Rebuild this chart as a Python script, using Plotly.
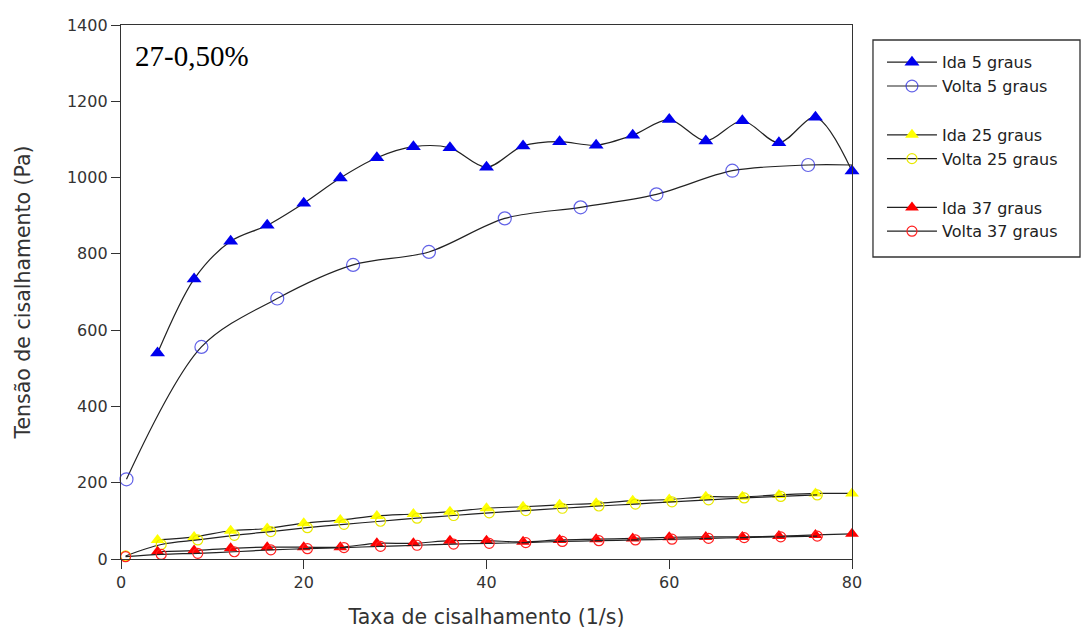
import plotly.graph_objects as go

x_ida = [4, 8, 12, 16, 20, 24, 28, 32, 36, 40, 44, 48, 52, 56, 60, 64, 68, 72, 76, 80]
x_volta5 = [0.6, 8.8, 17.1, 25.4, 33.7, 42.0, 50.3, 58.6, 66.9, 75.2, 80]
x_volta = [0.5, 4.4, 8.4, 12.4, 16.4, 20.4, 24.4, 28.4, 32.4, 36.4, 40.3, 44.3, 48.3, 52.3, 56.3, 60.3, 64.3, 68.2, 72.2, 76.2]

ida5 = [540, 734, 833, 875, 933, 999, 1052, 1081, 1078, 1027, 1083, 1094, 1085, 1111, 1152, 1096, 1149, 1091, 1158, 1017]
volta5 = [209, 556, 683, 771, 805, 893, 922, 956, 1018, 1033, 1033]
ida25 = [50, 58, 74, 80, 94, 102, 113, 118, 124, 133, 137, 142, 146, 153, 156, 163, 163, 168, 172, 172]
volta25 = [8, 38, 50, 62, 72, 82, 91, 99, 107, 114, 121, 127, 133, 139, 144, 150, 155, 160, 164, 168]
ida37 = [19, 22, 28, 31, 31, 31, 41, 41, 48, 48, 45, 50, 52, 54, 57, 58, 58, 60, 63, 66]
volta37 = [6, 12, 15, 19, 24, 27, 30, 33, 36, 39, 41, 43, 46, 48, 50, 52, 54, 56, 58, 60]

SANS = "DejaVu Sans, Arial"
fig = go.Figure()
line = dict(color="#222222", width=1.2, shape="spline", smoothing=0.9)

def add(x, y, name, symbol, color, group, size=12, sizes=None, open_=False):
    marker = dict(symbol=symbol, size=sizes if sizes else size, color=color)
    if open_:
        marker["line"] = dict(color=color, width=1.2)
    else:
        marker["line"] = dict(width=0)
    fig.add_trace(go.Scatter(x=x, y=y, name=name, mode="lines+markers", line=line,
                             marker=marker, legendgroup=group, cliponaxis=False))

m5 = [13] * (len(x_volta5) - 1) + [0]
add(x_ida, ida5, "Ida 5 graus", "triangle-up", "#0000ee", "g5", size=13)
add(x_volta5, volta5, "Volta 5 graus", "circle-open", "#2020dd", "g5", sizes=m5, open_=True)
add(x_ida, ida25, "Ida 25 graus", "triangle-up", "#ffff00", "g25", size=12)
add(x_volta, volta25, "Volta 25 graus", "circle-open", "#e8e800", "g25", size=10, open_=True)
add(x_ida, ida37, "Ida 37 graus", "triangle-up", "#ff0000", "g37", size=12)
add(x_volta, volta37, "Volta 37 graus", "circle-open", "#ff2020", "g37", size=10, open_=True)

axis_common = dict(showline=True, linecolor="#333333", linewidth=1.3, mirror=True,
                   ticks="outside", ticklen=9, tickcolor="#333333", showgrid=False,
                   zeroline=False, tickfont=dict(family=SANS, size=16, color="#333333"))

fig.update_layout(
    width=1083, height=642,
    margin=dict(l=121, r=231, t=25, b=83),
    paper_bgcolor="white", plot_bgcolor="white",
    xaxis=dict(range=[0, 80], tickvals=[0, 20, 40, 60, 80],
               title=dict(text="Taxa de cisalhamento (1/s)", standoff=18,
                          font=dict(family=SANS, size=20.5, color="#333333")),
               **axis_common),
    yaxis=dict(range=[0, 1400], tickvals=[0, 200, 400, 600, 800, 1000, 1200, 1400],
               title=dict(text="Tensão de cisalhamento (Pa)", standoff=30,
                          font=dict(family=SANS, size=20.5, color="#333333")),
               **axis_common),
    legend=dict(x=1.041, y=0.962, xanchor="left", yanchor="top",
                borderwidth=0, bgcolor="rgba(0,0,0,0)", itemwidth=50,
                traceorder="grouped", tracegroupgap=25,
                font=dict(family=SANS, size=16, color="#222222")),
    shapes=[dict(type="rect", xref="paper", yref="paper",
                 x0=1.0287, x1=1.3119, y0=0.5655, y1=0.9719,
                 line=dict(color="#333333", width=1.3), fillcolor="rgba(0,0,0,0)")],
    annotations=[dict(text="27-0,50%", x=0.016, y=0.975, xref="paper", yref="paper",
                      xanchor="left", yanchor="top", showarrow=False,
                      font=dict(family="Liberation Serif, Times New Roman", size=29, color="black"))],
)

fig.write_html("out.html")
